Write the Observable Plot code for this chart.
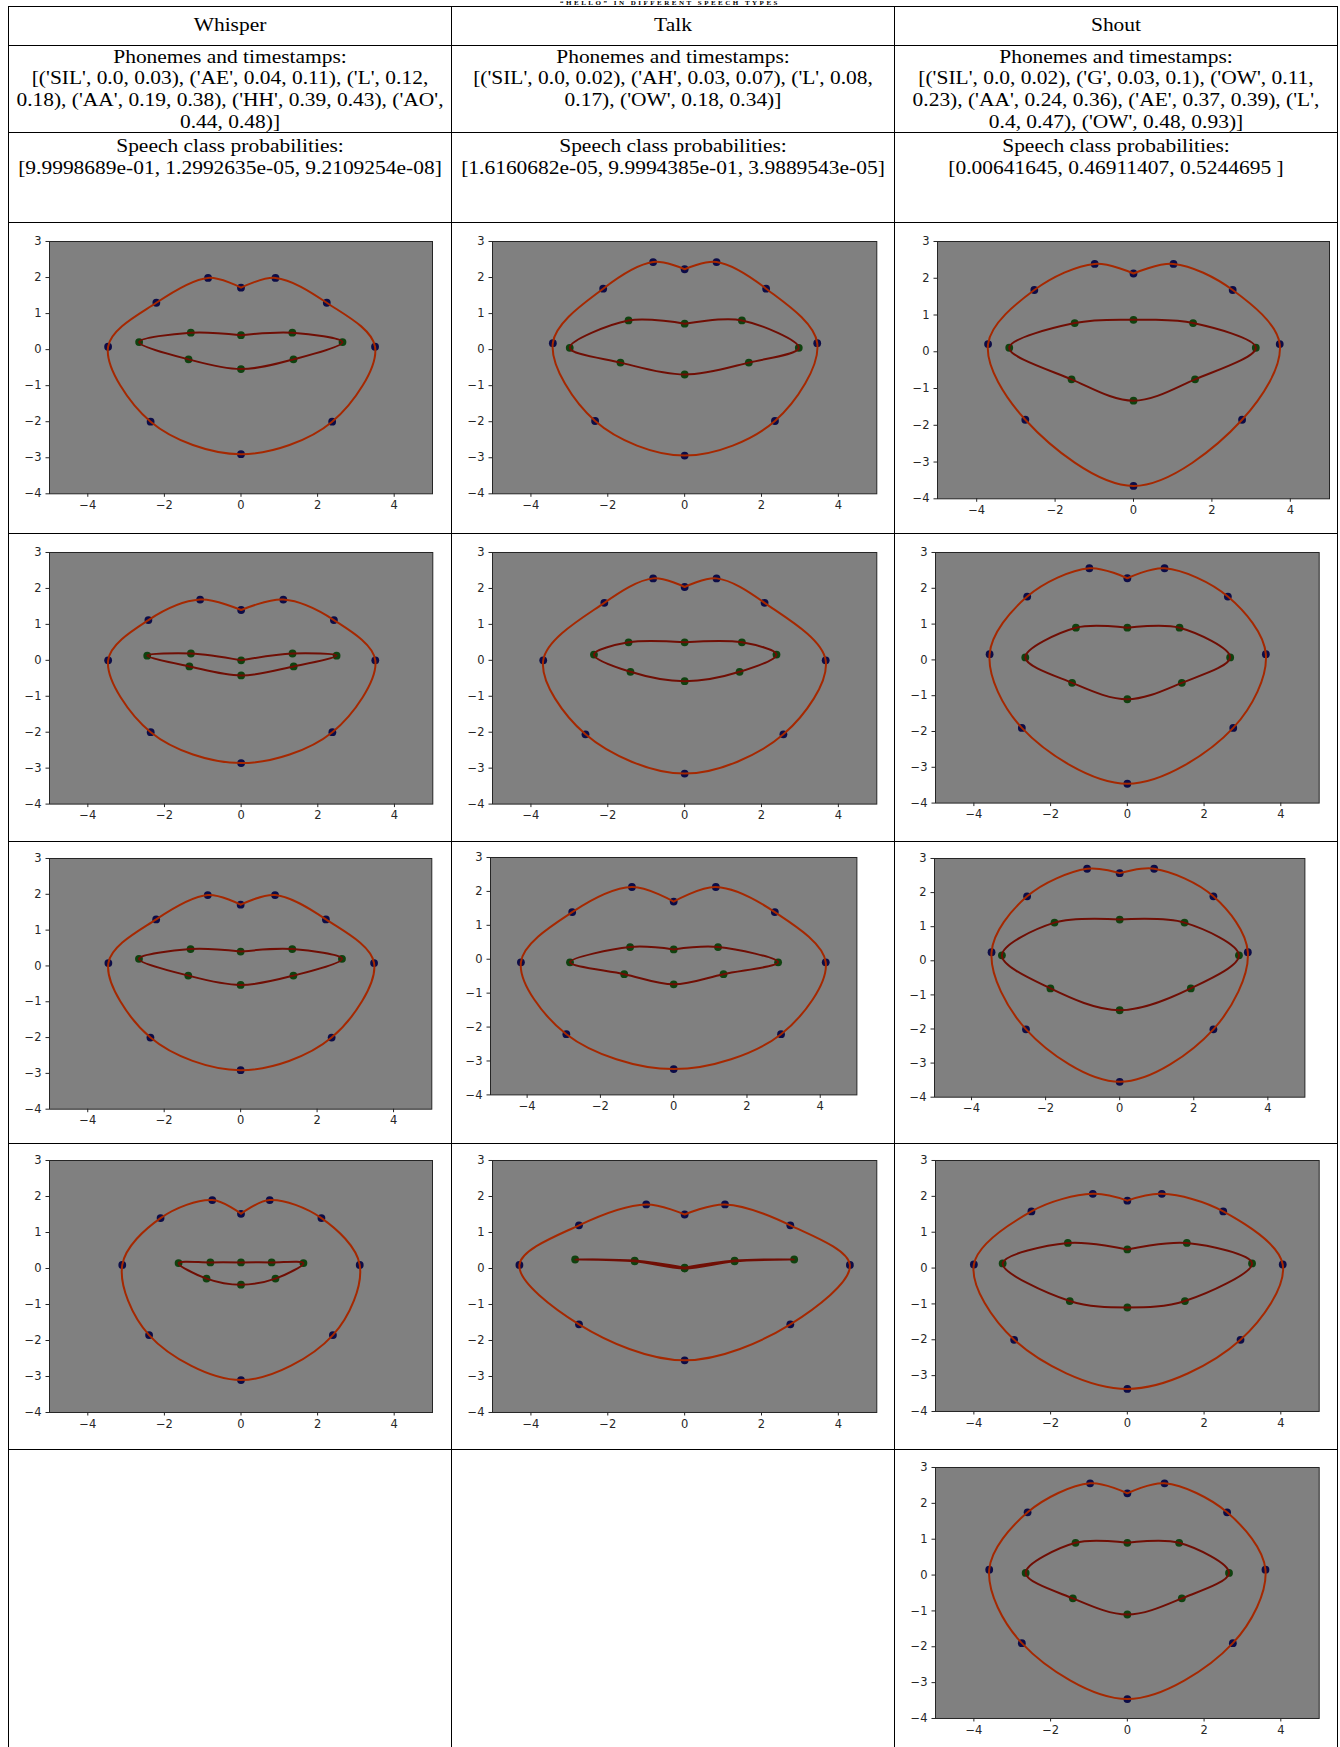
<!DOCTYPE html>
<html><head><meta charset="utf-8">
<script src="https://cdn.jsdelivr.net/npm/d3@7"></script>
<script src="https://cdn.jsdelivr.net/npm/@observablehq/plot@0.6"></script>
<style>
html,body{margin:0;padding:0;background:#fff;}
#page{position:relative;width:1340px;height:1747px;overflow:hidden;font-family:"Liberation Serif","Times New Roman",serif;color:#000;}
.hl{position:absolute;height:1px;background:#000;}
.vl{position:absolute;width:1px;background:#000;}
.cell{position:absolute;text-align:center;font-size:19.5px;line-height:21.8px;box-sizing:border-box;}
.cell div{white-space:nowrap;transform:scaleX(1.1);transform-origin:50% 50%;}
.plot{position:absolute;}
.title{position:absolute;left:0;width:1340px;text-align:center;font-weight:bold;font-size:7px;letter-spacing:2.5px;top:0px;line-height:6px;}
</style></head><body><div id="page"></div>
<script>
// ---------- text content ----------
const chartTitle = "\u201CHELLO\u201D IN DIFFERENT SPEECH TYPES";
const columns = ["Whisper", "Talk", "Shout"];
const whisperPhonemeLines = ["Phonemes and timestamps:", "[('SIL', 0.0, 0.03), ('AE', 0.04, 0.11), ('L', 0.12,", "0.18), ('AA', 0.19, 0.38), ('HH', 0.39, 0.43), ('AO',", "0.44, 0.48)]"];
const talkPhonemeLines = ["Phonemes and timestamps:", "[('SIL', 0.0, 0.02), ('AH', 0.03, 0.07), ('L', 0.08,", "0.17), ('OW', 0.18, 0.34)]"];
const shoutPhonemeLines = ["Phonemes and timestamps:", "[('SIL', 0.0, 0.02), ('G', 0.03, 0.1), ('OW', 0.11,", "0.23), ('AA', 0.24, 0.36), ('AE', 0.37, 0.39), ('L',", "0.4, 0.47), ('OW', 0.48, 0.93)]"];
const probLabel = "Speech class probabilities:";
const whisperProbs = "[9.9998689e-01, 1.2992635e-05, 9.2109254e-08]";
const talkProbs = "[1.6160682e-05, 9.9994385e-01, 3.9889543e-05]";
const shoutProbs = "[0.00641645, 0.46911407, 0.5244695 ]";
const xTicks = [-4, -2, 0, 2, 4];
const yTicks = [-4, -3, -2, -1, 0, 1, 2, 3];

// ---------- lip landmarks ----------
// outer order: left corner, upper-left, left peak, cupid, right peak, upper-right, right corner, lower-right, bottom, lower-left
// inner order: left corner, upper-left, upper-center, upper-right, right corner, lower-right, lower-center, lower-left
const whisper1Outer = [[-3.47,0.08],[-2.21,1.30],[-0.86,1.99],[0,1.72],[0.90,1.99],[2.24,1.30],[3.50,0.08],[2.38,-2.0],[0,-2.90],[-2.36,-2.0]];
const whisper1Inner = [[-2.66,0.21],[-1.31,0.47],[0,0.40],[1.34,0.47],[2.65,0.21],[1.37,-0.27],[0,-0.54],[-1.37,-0.27]];
const talk1Outer = [[-3.43,0.18],[-2.12,1.69],[-0.82,2.43],[0,2.23],[0.83,2.43],[2.12,1.69],[3.45,0.18],[2.35,-1.98],[0,-2.94],[-2.33,-1.98]];
const talk1Inner = [[-2.99,0.05],[-1.46,0.81],[0,0.72],[1.49,0.81],[2.97,0.05],[1.67,-0.36],[0,-0.69],[-1.67,-0.36]];
const shout1Outer = [[-3.71,0.21],[-2.53,1.68],[-0.99,2.39],[0,2.13],[1.02,2.39],[2.53,1.68],[3.73,0.21],[2.77,-1.85],[0,-3.65],[-2.76,-1.85]];
const shout1Inner = [[-3.17,0.11],[-1.50,0.78],[0,0.87],[1.52,0.78],[3.12,0.11],[1.57,-0.75],[0,-1.33],[-1.58,-0.75]];
const whisper2Outer = [[-3.47,0],[-2.42,1.12],[-1.07,1.69],[0,1.40],[1.10,1.69],[2.42,1.12],[3.50,0],[2.38,-2.0],[0,-2.86],[-2.36,-2.0]];
const whisper2Inner = [[-2.45,0.13],[-1.31,0.19],[0,0],[1.34,0.19],[2.49,0.13],[1.37,-0.17],[0,-0.42],[-1.35,-0.17]];
const talk2Outer = [[-3.68,0],[-2.09,1.60],[-0.82,2.28],[0,2.04],[0.83,2.28],[2.08,1.60],[3.67,0],[2.57,-2.06],[0,-3.15],[-2.58,-2.06]];
const talk2Inner = [[-2.36,0.16],[-1.46,0.50],[0,0.50],[1.49,0.50],[2.39,0.16],[1.43,-0.32],[0,-0.58],[-1.41,-0.32]];
const shout2Outer = [[-3.59,0.16],[-2.61,1.77],[-0.99,2.56],[0,2.28],[0.97,2.56],[2.62,1.77],[3.61,0.16],[2.76,-1.90],[0,-3.46],[-2.75,-1.90]];
const shout2Inner = [[-2.66,0.07],[-1.34,0.90],[0,0.90],[1.36,0.90],[2.68,0.07],[1.42,-0.64],[0,-1.10],[-1.44,-0.64]];
const whisper3Outer = [[-3.46,0.08],[-2.21,1.30],[-0.86,1.98],[0,1.71],[0.90,1.98],[2.23,1.30],[3.49,0.08],[2.38,-2.0],[0,-2.91],[-2.36,-2.0]];
const whisper3Inner = [[-2.66,0.20],[-1.31,0.47],[0,0.40],[1.35,0.47],[2.65,0.20],[1.38,-0.27],[0,-0.53],[-1.37,-0.27]];
const talk3Outer = [[-4.17,-0.09],[-2.77,1.39],[-1.14,2.13],[0,1.70],[1.15,2.13],[2.76,1.39],[4.15,-0.09],[2.93,-2.21],[0,-3.24],[-2.93,-2.21]];
const talk3Inner = [[-2.83,-0.09],[-1.19,0.36],[0,0.29],[1.21,0.36],[2.85,-0.09],[1.36,-0.44],[0,-0.74],[-1.35,-0.44]];
const shout3Outer = [[-3.46,0.25],[-2.50,1.89],[-0.88,2.70],[0,2.57],[0.93,2.70],[2.53,1.89],[3.46,0.25],[2.53,-2.01],[0,-3.55],[-2.53,-2.01]];
const shout3Inner = [[-3.18,0.16],[-1.76,1.12],[0,1.21],[1.75,1.12],[3.22,0.16],[1.92,-0.81],[0,-1.45],[-1.87,-0.81]];
const whisper4Outer = [[-3.1,0.1],[-2.1,1.4],[-0.75,1.9],[0,1.52],[0.75,1.9],[2.1,1.4],[3.1,0.1],[2.4,-1.85],[0,-3.1],[-2.4,-1.85]];
const whisper4Inner = [[-1.63,0.15],[-0.8,0.17],[0,0.17],[0.8,0.17],[1.63,0.15],[0.9,-0.28],[0,-0.45],[-0.9,-0.28]];
const talk4Outer = [[-4.3,0.1],[-2.75,1.2],[-1.0,1.78],[0,1.5],[1.05,1.78],[2.75,1.2],[4.3,0.1],[2.75,-1.55],[0,-2.55],[-2.75,-1.55]];
const talk4Inner = [[-2.85,0.25],[-1.3,0.22],[0,0.02],[1.3,0.22],[2.85,0.25],[1.3,0.2],[0,0.0],[-1.3,0.2]];
const shout4Outer = [[-4.0,0.1],[-2.5,1.58],[-0.9,2.07],[0,1.88],[0.9,2.07],[2.5,1.58],[4.05,0.1],[2.95,-2.0],[0,-3.37],[-2.95,-2.0]];
const shout4Inner = [[-3.25,0.13],[-1.55,0.7],[0,0.52],[1.55,0.7],[3.25,0.13],[1.5,-0.92],[0,-1.1],[-1.5,-0.92]];
const shout5Outer = [[-3.6,0.15],[-2.6,1.75],[-0.97,2.56],[0,2.28],[0.97,2.56],[2.6,1.75],[3.6,0.15],[2.75,-1.9],[0,-3.46],[-2.75,-1.9]];
const shout5Inner = [[-2.65,0.06],[-1.35,0.9],[0,0.9],[1.35,0.9],[2.65,0.06],[1.42,-0.65],[0,-1.1],[-1.42,-0.65]];

// ---------- layout (separate from data) ----------
const hLines = [6, 45, 132, 222, 533, 840.5, 1143, 1449];
const vLines = [8, 451, 894, 1337];
const panels = [
  {outer: whisper1Outer, inner: whisper1Inner, fx: 49,    fy: 240.7, fw: 383,   fh: 252.3},
  {outer: talk1Outer,    inner: talk1Inner,    fx: 491.7, fy: 240.7, fw: 384.3, fh: 252.3},
  {outer: shout1Outer,   inner: shout1Inner,   fx: 936.7, fy: 240.7, fw: 392,   fh: 257.3},
  {outer: whisper2Outer, inner: whisper2Inner, fx: 49,    fy: 551.7, fw: 383.3, fh: 251.6},
  {outer: talk2Outer,    inner: talk2Inner,    fx: 491.7, fy: 551.7, fw: 384.3, fh: 251.6},
  {outer: shout2Outer,   inner: shout2Inner,   fx: 935.3, fy: 551.7, fw: 383.7, fh: 250.6},
  {outer: whisper3Outer, inner: whisper3Inner, fx: 49,    fy: 858,   fw: 382.3, fh: 250.7},
  {outer: talk3Outer,    inner: talk3Inner,    fx: 490.3, fy: 857.3, fw: 366.4, fh: 237.4},
  {outer: shout3Outer,   inner: shout3Inner,   fx: 934.3, fy: 858.3, fw: 370.4, fh: 238.7},
  {outer: whisper4Outer, inner: whisper4Inner, fx: 49,    fy: 1160,  fw: 383,   fh: 252},
  {outer: talk4Outer,    inner: talk4Inner,    fx: 491.7, fy: 1160,  fw: 384.3, fh: 252},
  {outer: shout4Outer,   inner: shout4Inner,   fx: 935.3, fy: 1160,  fw: 383.7, fh: 251},
  {outer: shout5Outer,   inner: shout5Inner,   fx: 935.3, fy: 1467,  fw: 383.7, fh: 251}
];

const page = document.getElementById("page");
function el(cls, css, html) {
  const d = document.createElement("div");
  d.className = cls;
  Object.assign(d.style, css);
  if (html !== undefined) d.innerHTML = html;
  page.appendChild(d);
  return d;
}
el("title", {}, chartTitle);
hLines.forEach(y => el("hl", {left: vLines[0] + "px", top: y + "px", width: (vLines[3] - vLines[0] + 1) + "px"}));
vLines.forEach(x => el("vl", {left: x + "px", top: hLines[0] + "px", height: (1747 - hLines[0]) + "px"}));

const phonemeLines = [whisperPhonemeLines, talkPhonemeLines, shoutPhonemeLines];
const probs = [whisperProbs, talkProbs, shoutProbs];
columns.forEach((name, i) => {
  const left = vLines[i] + 1, w = vLines[i + 1] - vLines[i] - 1;
  el("cell", {left: left + "px", width: w + "px", top: hLines[0] + "px", height: (hLines[1] - hLines[0]) + "px", paddingTop: "8px"}, `<div>${name}</div>`);
  el("cell", {left: left + "px", width: w + "px", top: hLines[1] + "px", paddingTop: "0.5px"}, phonemeLines[i].map(s => `<div>${s}</div>`).join(""));
  el("cell", {left: left + "px", width: w + "px", top: hLines[2] + "px", paddingTop: "3px"}, `<div>${probLabel}</div><div>${probs[i]}</div>`);
});

const fmt = d => d < 0 ? "\u2212" + (-d) : String(d);
function lipPlot(p) {
  const ml = 40, mt = 10, mr = 10, mb = 26;
  const outerPath = [3, 4, 5, 6, 7, 8, 9, 0, 1, 2, 3].map(i => ({x: p.outer[i][0], y: p.outer[i][1]}));
  const innerPath = [2, 3, 4, 5, 6, 7, 0, 1, 2].map(i => ({x: p.inner[i][0], y: p.inner[i][1]}));
  const svg = Plot.plot({
    width: p.fw + ml + mr, height: p.fh + mt + mb,
    marginLeft: ml, marginTop: mt, marginRight: mr, marginBottom: mb,
    x: {domain: [-5, 5], label: null}, y: {domain: [-4, 3], label: null},
    style: {fontFamily: "DejaVu Sans", fontSize: "11.5px", color: "#262626", background: "transparent", overflow: "visible"},
    marks: [
      Plot.frame({fill: "#808080"}),
      Plot.dot(p.outer, {x: d => d[0], y: d => d[1], r: 3.9, fill: "#0c0c48", stroke: "none"}),
      Plot.dot(p.inner, {x: d => d[0], y: d => d[1], r: 3.9, fill: "#0f420f", stroke: "none"}),
      Plot.line(outerPath, {x: "x", y: "y", curve: "catmull-rom", stroke: "#a52800", strokeWidth: 2}),
      Plot.line(innerPath, {x: "x", y: "y", curve: "catmull-rom", stroke: "#700e04", strokeWidth: 2}),
      Plot.frame({stroke: "#262626", strokeWidth: 1}),
      Plot.axisX({ticks: xTicks, tickSize: 3.5, tickPadding: 3.5, tickFormat: fmt, label: null}),
      Plot.axisY({ticks: yTicks, tickSize: 3.5, tickPadding: 4.5, tickFormat: fmt, label: null})
    ]
  });
  svg.classList.add("plot");
  svg.style.left = (p.fx - ml) + "px";
  svg.style.top = (p.fy - mt) + "px";
  page.appendChild(svg);
}
panels.forEach(lipPlot);
</script></body></html>
